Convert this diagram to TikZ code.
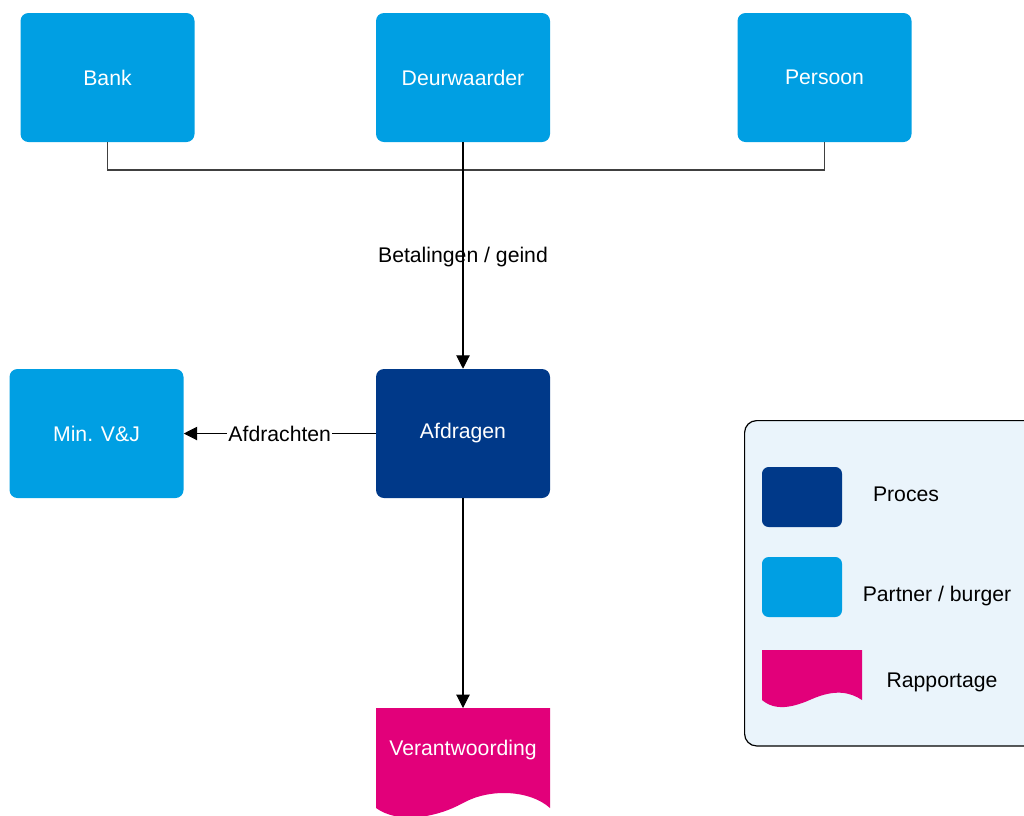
\documentclass[tikz,border=0pt]{standalone}
\usepackage{fontspec}
\setmainfont{Liberation Sans}
\usetikzlibrary{arrows.meta}
\definecolor{lblue}{RGB}{0,159,227}
\definecolor{dblue}{RGB}{0,57,137}
\definecolor{magenta}{RGB}{226,0,122}
\definecolor{legfill}{RGB}{234,244,251}
\definecolor{linegray}{RGB}{64,64,64}
\begin{document}
\begin{tikzpicture}[x=0.75pt,y=-0.75pt,
  every node/.style={font=\fontsize{15.9}{19}\selectfont},
  partner/.style={rectangle,rounded corners=6pt,fill=lblue,text=white,minimum width=130.5pt,minimum height=96.75pt,inner sep=0pt},
  proces/.style={partner,fill=dblue},
  legbox/.style={rectangle,rounded corners=5pt,minimum width=60pt,minimum height=45pt,inner sep=0pt},
  conn/.style={draw=black,line width=0.8pt},
  arr/.style={conn,-{Triangle[length=10pt,width=10pt]}},
  lbl/.style={text=black,inner sep=1pt}
]
\useasboundingbox (0,0) rectangle (1024,815);
% nodes
\node[partner] (bank) at (107.5,77.5) {Bank};
\node[partner] (deur) at (463,77.5) {Deurwaarder};
\node[partner] (pers) at (824.5,77.5) {Persoon};
\node[proces] (afd) at (463,433.5) {\raisebox{-1.5pt}{Afdragen}};
\node[partner] (min) at (96.5,433.5) {Min. V\&J};
% Verantwoording document shape
\fill[magenta] (376,708) -- (550,708) -- (550,808)
  .. controls (530,790) and (490,788) .. (463,803)
  .. controls (436,818) and (398,824) .. (376,808) -- cycle;
\node[rectangle,minimum width=130.5pt,minimum height=75pt,inner sep=0pt,text=white,anchor=north] (ver) at (463,708) {};
\node[text=white] (vertext) at (463,750) {Verantwoording};
% connectors
\coordinate (jb) at (107.5,170);
\coordinate (jp) at (824.5,170);
\draw[conn,draw=linegray] (bank.south) -- (jb) -- (jp) -- (pers.south);
\draw[arr] (deur.south) -- (afd.north);
\node[lbl] (betal) at (463,257) {Betalingen / geind};
\draw[arr] (afd.west) -- node[lbl,fill=white,pos=0.5] (afdr) {Afdrachten} (min.east);
\draw[arr] (afd.south) -- (ver.north);
% legend
\node[rectangle,draw=black,line width=0.9pt,fill=legfill,rounded corners=9pt,anchor=north west,minimum width=225pt,minimum height=244pt,inner sep=0pt] (legend) at (744,420) {};
\node[legbox,fill=dblue] (lproc) at (802,497) {};
\node[legbox,fill=lblue] (lpart) at (802,587) {};
\fill[magenta] (762,650) -- (862,650) -- (862,700)
  .. controls (850,692) and (835,689) .. (812,699)
  .. controls (792,708) and (775,711) .. (762,700) -- cycle;
\node[lbl] (tproc) at (906,494) {Proces};
\node[lbl] (tpart) at (937,596) {Partner / burger};
\node[lbl] (trap) at (942,682) {Rapportage};
\end{tikzpicture}
\end{document}
